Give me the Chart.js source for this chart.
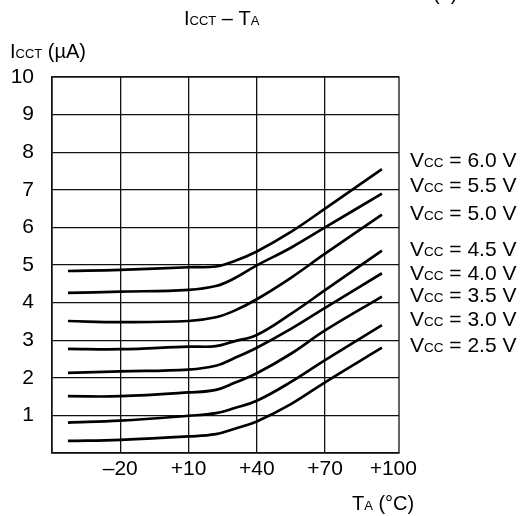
<!DOCTYPE html>
<html>
<head>
<meta charset="utf-8">
<script src="https://cdn.jsdelivr.net/npm/chart.js@4.4.1/dist/chart.umd.min.js"></script>
<style>
  body { margin: 0; background: #fff; }
  #wrap { width: 520px; height: 516px; position: relative; }
</style>
</head>
<body>
<div id="wrap"><canvas id="icct"></canvas></div>
<script>
const temps = [-43, -20, 10, 22, 30, 40, 55, 70, 95];
const xTicks = [-50, -20, 10, 40, 70, 100];
const xTickLabels = ["", "–20", "+10", "+40", "+70", "+100"];
const vccValues = ["6.0", "5.5", "5.0", "4.5", "4.0", "3.5", "3.0", "2.5"];
const icct60 = [4.84, 4.87, 4.94, 4.96, 5.10, 5.36, 5.88, 6.50, 7.55];
const icct55 = [4.26, 4.29, 4.34, 4.44, 4.64, 4.99, 5.46, 6.00, 6.90];
const icct50 = [3.51, 3.48, 3.51, 3.61, 3.78, 4.09, 4.66, 5.30, 6.34];
const icct45 = [2.77, 2.76, 2.83, 2.84, 2.97, 3.14, 3.70, 4.33, 5.38];
const icct40 = [2.13, 2.17, 2.22, 2.32, 2.52, 2.80, 3.30, 3.86, 4.78];
const icct35 = [1.51, 1.51, 1.61, 1.68, 1.86, 2.12, 2.64, 3.26, 4.16];
const icct30 = [0.81, 0.86, 0.99, 1.06, 1.19, 1.39, 1.89, 2.47, 3.40];
const icct25 = [0.32, 0.35, 0.44, 0.50, 0.64, 0.84, 1.30, 1.88, 2.80];
// baseline of each "Vcc = ..." label, in µA
const vccLabelPos = [7.6, 6.93, 6.21, 5.25, 4.61, 4.02, 3.38, 2.69];

const series = [icct60, icct55, icct50, icct45, icct40, icct35, icct30, icct25];
const FONT = "'Liberation Sans', Arial, sans-serif";

function drawRich(ctx, x, y, parts) {
  ctx.textAlign = "left";
  ctx.textBaseline = "alphabetic";
  parts.forEach(p => {
    ctx.font = p[1] + "px " + FONT;
    ctx.fillText(p[0], x, y);
    x += ctx.measureText(p[0]).width;
  });
}

const textPlugin = {
  id: "texts",
  beforeDatasetsDraw(chart) {
    const a = chart.chartArea;
    const ctx = chart.ctx;
    ctx.save();
    ctx.strokeStyle = "#111";
    ctx.lineWidth = 1.3;
    ctx.strokeRect(a.left, a.top, a.right - a.left, a.bottom - a.top);
    ctx.restore();
  },
  afterDraw(chart) {
    const ctx = chart.ctx;
    const y = chart.scales.y;
    ctx.save();
    ctx.fillStyle = "#000";
    drawRich(ctx, 433, -0.5, [["(1)", 20]]);
    drawRich(ctx, 184, 25, [["I", 20], ["CCT", 13], [" – T", 20], ["A", 13]]);
    drawRich(ctx, 10, 58, [["I", 20], ["CCT", 13], [" (µA)", 20]]);
    drawRich(ctx, 352, 510, [["T", 20], ["A", 13], [" (°C)", 20]]);
    vccValues.forEach((v, i) => {
      drawRich(ctx, 410, y.getPixelForValue(vccLabelPos[i]),
        [["V", 21], ["CC", 13.5], [" = " + v + " V", 21]]);
    });
    ctx.restore();
  }
};

new Chart(document.getElementById("icct"), {
  type: "line",
  data: {
    datasets: series.map((s, i) => ({
      label: "Vcc = " + vccValues[i] + " V",
      data: s.map((v, j) => ({ x: temps[j], y: v })),
      borderColor: "#000",
      borderWidth: 2.7,
      pointRadius: 0,
      fill: false,
      tension: 0.4
    }))
  },
  options: {
    responsive: true,
    maintainAspectRatio: false,
    animation: false,
    layout: { padding: { top: 77, right: 121, left: 0, bottom: 0 } },
    plugins: {
      legend: { display: false },
      tooltip: { enabled: false }
    },
    scales: {
      x: {
        type: "linear",
        min: -50,
        max: 102.5,
        afterBuildTicks: s => { s.ticks = xTicks.map(v => ({ value: v })); },
        afterFit: s => { s.height = 63; },
        ticks: {
          autoSkip: false,
          maxRotation: 0,
          padding: 4,
          color: "#000",
          font: { family: FONT, size: 21 },
          callback: v => xTickLabels[xTicks.indexOf(v)]
        },
        grid: {
          drawTicks: false,
          lineWidth: 1.3,
          color: c => (c.tick && (c.tick.value === -50 || c.tick.value === 100)) ? "rgba(0,0,0,0)" : "#111"
        },
        border: { color: "#111", width: 1.3 }
      },
      y: {
        min: 0,
        max: 10,
        afterFit: s => { s.width = 52; },
        ticks: {
          stepSize: 1,
          padding: 18,
          color: "#000",
          font: { family: FONT, size: 21 },
          callback: v => v === 0 ? "" : v
        },
        grid: { drawTicks: false, lineWidth: 1.3, color: "#111" },
        border: { color: "#111", width: 1.3 }
      }
    }
  },
  plugins: [textPlugin]
});
</script>
</body>
</html>
